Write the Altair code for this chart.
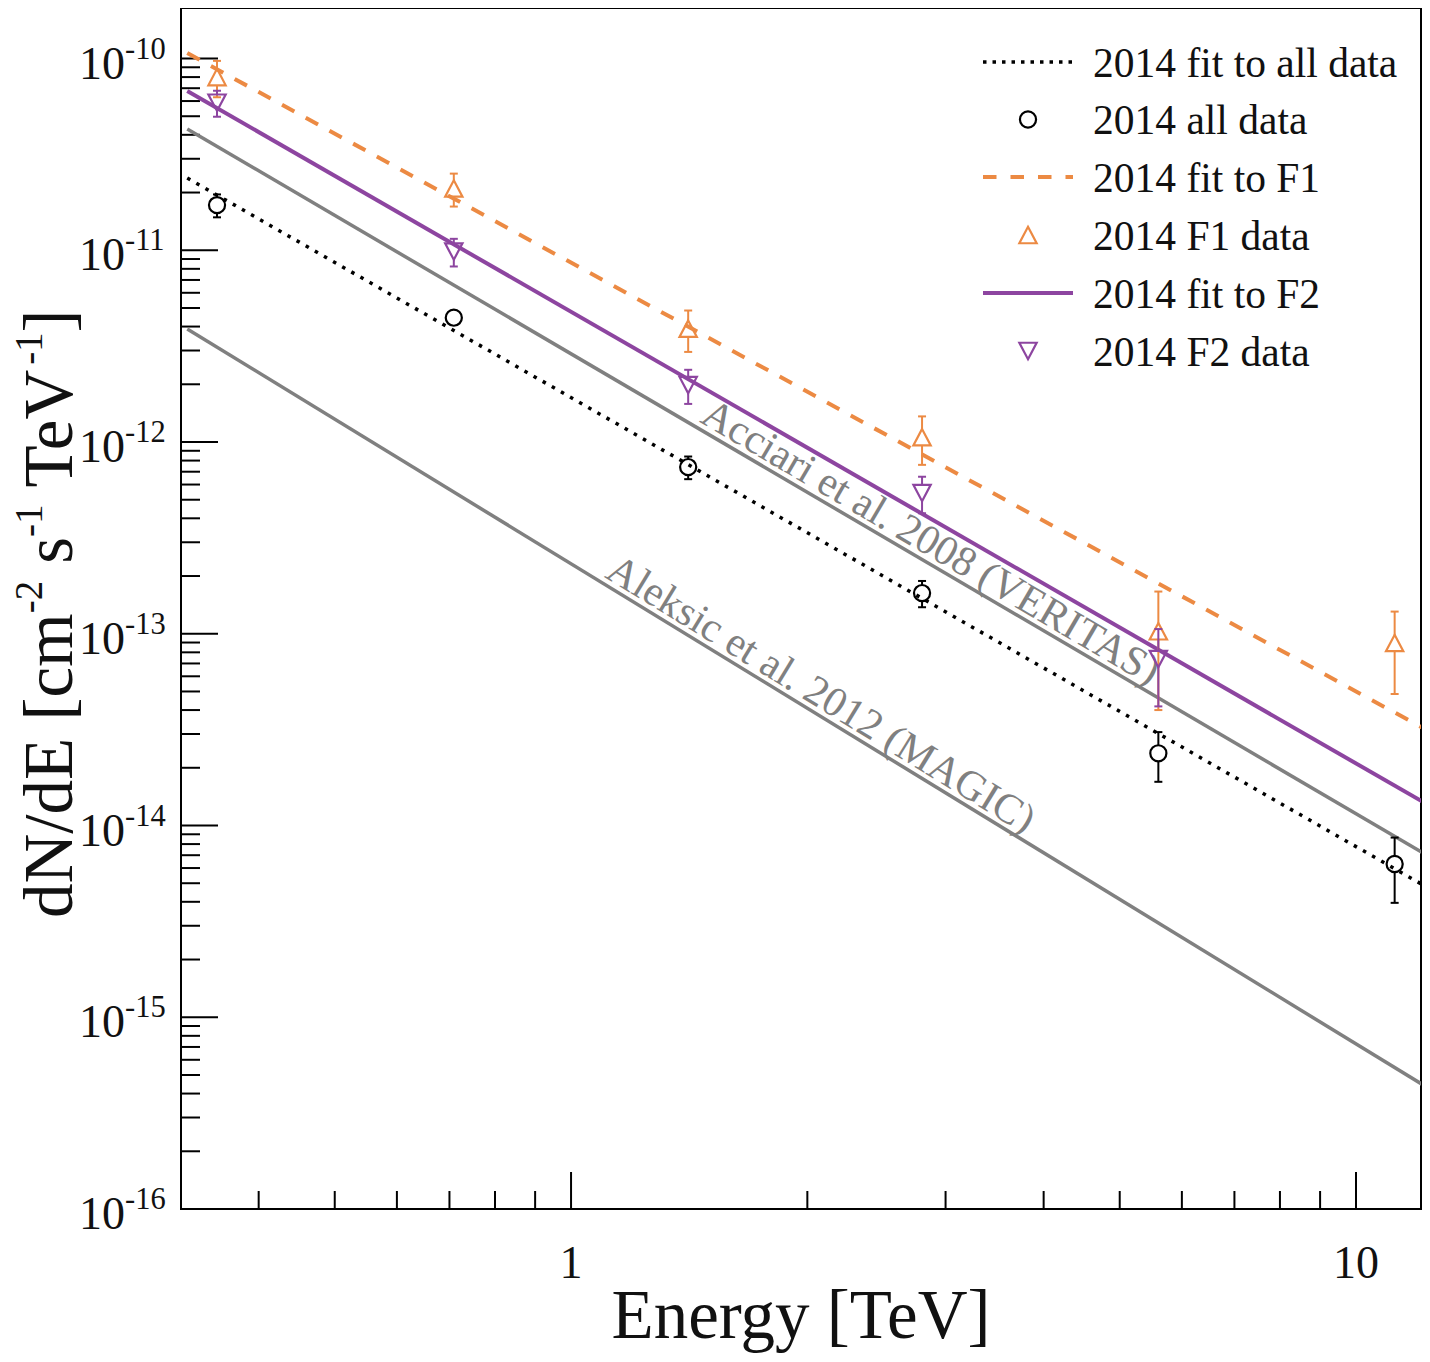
import altair as alt
import pandas as pd

SERIF = "Liberation Serif"
ORANGE = "#ec8a43"
PURPLE = "#8d45a0"
GRAY = "#808080"

# ---------------- data ----------------
energy = [0.354, 0.709, 1.41, 2.80, 5.60, 11.2]
all_flux = [1.72e-11, 4.45e-12, 7.4e-13, 1.63e-13, 2.38e-14, 6.3e-15]
all_err = [2.35e-12, 2.5e-13, 1.0e-13, 2.55e-14, 6.9e-15, 2.35e-15]

f1_flux = [8.0e-11, 2.10e-11, 3.9e-12, 1.06e-12, 1.03e-13, 8.95e-14]
f1_err = [1.72e-11, 4.1e-12, 9.5e-13, 3.0e-13, 6.3e-14, 4.1e-14]

f2_energy = [0.354, 0.709, 1.41, 2.80, 5.60]
f2_flux = [5.88e-11, 9.85e-12, 1.98e-12, 5.42e-13, 7.38e-14]
f2_err = [9.1e-12, 1.62e-12, 4.0e-13, 1.17e-13, 3.2e-14]

# power-law lines (straight on log-log): end points
line_energy = [0.3244, 12.17]
fit_all = [2.38e-11, 4.90e-15]
fit_f1 = [1.068e-10, 3.225e-14]
fit_f2 = [6.77e-11, 1.327e-14]
veritas = [4.29e-11, 7.19e-15]
magic = [3.885e-12, 4.44e-16]

ref_labels = ["Acciari et al. 2008 (VERITAS)", "Aleksic et al. 2012 (MAGIC)"]
ref_label_energy = [2.792, 2.022]
ref_label_flux = [2.456e-13, 3.97e-14]

legend_labels = ["2014 fit to all data", "2014 all data", "2014 fit to F1",
                 "2014 F1 data", "2014 fit to F2", "2014 F2 data"]

x_domain = [0.3185, 12.10]
y_domain = [1e-16, 1.834e-10]
x_major = [1, 10]
x_major_labels = ["1", "10"]
x_minor = [0.4, 0.5, 0.6, 0.7, 0.8, 0.9, 2, 3, 4, 5, 6, 7, 8, 9]
y_exponents = [-16, -15, -14, -13, -12, -11, -10]
y_minor_mult = [2, 3, 4, 5, 6, 7, 8, 9]

x_title = "Energy [TeV]"
y_title_parts = [("dN/dE [cm", False), ("-2", True), ("s", False), ("-1", True),
                 ("TeV", False), ("-1", True), ("]", False)]

# ---------------- layout ----------------
W, H = 1240, 1201
xs = alt.Scale(type="log", domain=x_domain, nice=False)
ys = alt.Scale(type="log", domain=y_domain, nice=False)


def X(f):
    return alt.X(f"{f}:Q", scale=xs, axis=None)


def Y(f):
    return alt.Y(f"{f}:Q", scale=ys, axis=None)


layers = []

# tick marks (inward, drawn through the scales)
ymaj_df = pd.DataFrame({"v": [10.0 ** e for e in y_exponents],
                        "base": ["10"] * len(y_exponents),
                        "sup": [str(e) for e in y_exponents]})
ymin_df = pd.DataFrame({"v": [m * 10.0 ** e for e in y_exponents[:-1] for m in y_minor_mult]})
xmaj_df = pd.DataFrame({"v": x_major, "label": x_major_labels})
xmin_df = pd.DataFrame({"v": x_minor})

layers.append(alt.Chart(ymaj_df).mark_rule(color="black", strokeWidth=2).encode(
    y=Y("v"), x=alt.value(0), x2=alt.value(37)))
layers.append(alt.Chart(ymin_df).mark_rule(color="black", strokeWidth=2).encode(
    y=Y("v"), x=alt.value(0), x2=alt.value(19)))
layers.append(alt.Chart(xmaj_df).mark_rule(color="black", strokeWidth=2).encode(
    x=X("v"), y=alt.value(H), y2=alt.value(H - 37)))
layers.append(alt.Chart(xmin_df).mark_rule(color="black", strokeWidth=2).encode(
    x=X("v"), y=alt.value(H), y2=alt.value(H - 18)))

# tick labels
layers.append(alt.Chart(ymaj_df).mark_text(font=SERIF, fontSize=46, align="right",
                                           baseline="alphabetic", dy=20, color="#111111").encode(
    y=Y("v"), x=alt.value(-56), text="base:N"))
layers.append(alt.Chart(ymaj_df).mark_text(font=SERIF, fontSize=30.5, align="left",
                                           baseline="alphabetic", dy=0, color="#111111").encode(
    y=Y("v"), x=alt.value(-56), text="sup:N"))
layers.append(alt.Chart(xmaj_df).mark_text(font=SERIF, fontSize=46, align="center",
                                           baseline="alphabetic", color="#111111").encode(
    x=X("v"), y=alt.value(H + 69), text="label:N"))

# axis titles
layers.append(alt.Chart(pd.DataFrame({"t": [x_title]})).mark_text(
    font=SERIF, fontSize=69, align="center", baseline="alphabetic", color="#111111").encode(
    x=alt.value(W / 2), y=alt.value(H + 129), text="t:N"))

em = {'d': .5, 'N': .722, '/': .278, 'E': .611, ' ': .25, '[': .333, 'c': .444, 'm': .778,
      '-': .333, '2': .5, '1': .5, 's': .389, 'T': .611, 'e': .444, 'V': .722, ']': .333}
cursor = 910.0
for i, (txt, sup) in enumerate(y_title_parts):
    size = 39 if sup else 69
    xpos = -139 if sup else -109
    layers.append(alt.Chart(pd.DataFrame({"t": [txt]})).mark_text(
        font=SERIF, fontSize=size, align="left", baseline="alphabetic", angle=270,
        color="#111111").encode(x=alt.value(xpos), y=alt.value(cursor), text="t:N"))
    cursor -= sum(em[c] for c in txt) * size
    nxt_main = i + 1 < len(y_title_parts) and not y_title_parts[i + 1][1]
    if sup and nxt_main and y_title_parts[i + 1][0] != "]":
        cursor -= 17

# lines
lines_df = pd.DataFrame({"E": line_energy, "all": fit_all, "f1": fit_f1, "f2": fit_f2,
                         "ver": veritas, "mag": magic})
layers.append(alt.Chart(lines_df).mark_line(color=GRAY, strokeWidth=3.5, clip=True).encode(
    x=X("E"), y=Y("mag")))
layers.append(alt.Chart(lines_df).mark_line(color=GRAY, strokeWidth=3.5, clip=True).encode(
    x=X("E"), y=Y("ver")))
layers.append(alt.Chart(lines_df).mark_line(color="black", strokeWidth=3.5, strokeDash=[3.5, 7],
                                            clip=True).encode(x=X("E"), y=Y("all")))
layers.append(alt.Chart(lines_df).mark_line(color=PURPLE, strokeWidth=4, clip=True).encode(
    x=X("E"), y=Y("f2")))
layers.append(alt.Chart(lines_df).mark_line(color=ORANGE, strokeWidth=4, strokeDash=[14, 13],
                                            clip=True).encode(x=X("E"), y=Y("f1")))

# reference labels along the lines
for lab, e, f, ang in zip(ref_labels, ref_label_energy, ref_label_flux, [30.4, 31.5]):
    layers.append(alt.Chart(pd.DataFrame({"E": [e], "v": [f], "t": [lab]})).mark_text(
        font=SERIF, fontSize=42, align="center", baseline="alphabetic", angle=ang, dy=-6,
        color=GRAY).encode(x=X("E"), y=Y("v"), text="t:N"))

# data points with error bars
TRI_UP = "M0,-0.95L1,0.95L-1,0.95Z"
TRI_DOWN = "M0,0.95L1,-0.95L-1,-0.95Z"


def points(E, v, err, color, shape, size):
    df = pd.DataFrame({"E": E, "v": v, "err": err})
    df["hi"] = df["v"] + df["err"]
    df["lo"] = df["v"] - df["err"]
    base = alt.Chart(df)
    up = base.transform_filter("datum.hi / datum.v > 1.1")
    dn = base.transform_filter("datum.v / datum.lo > 1.1")
    return [
        up.mark_rule(color=color, strokeWidth=2, y2Offset=-8).encode(
            x=X("E"), y=Y("hi"), y2=alt.Y2("v:Q")),
        up.mark_rule(color=color, strokeWidth=2, xOffset=-4, x2Offset=4).encode(
            x=X("E"), x2=alt.X2("E:Q"), y=Y("hi")),
        dn.mark_rule(color=color, strokeWidth=2, yOffset=8).encode(
            x=X("E"), y=Y("v"), y2=alt.Y2("lo:Q")),
        dn.mark_rule(color=color, strokeWidth=2, xOffset=-4, x2Offset=4).encode(
            x=X("E"), x2=alt.X2("E:Q"), y=Y("lo")),
        base.mark_point(shape=shape, size=size, filled=False, color=color, strokeWidth=2.2,
                        opacity=1).encode(x=X("E"), y=Y("v")),
    ]


layers += points(energy, all_flux, all_err, "black", "circle", 260)
layers += points(energy, f1_flux, f1_err, ORANGE, TRI_UP, 300)
layers += points(f2_energy, f2_flux, f2_err, PURPLE, TRI_DOWN, 300)

# legend (manual)
one = pd.DataFrame({"k": [0]})
rows = [54, 111.5, 169, 227, 285, 343]
LX1, LX2, LXS, LXT = 802, 892, 847, 912
layers.append(alt.Chart(one).mark_rule(color="black", strokeWidth=3.5, strokeDash=[3.5, 6]).encode(
    x=alt.value(LX1), x2=alt.value(LX2), y=alt.value(rows[0])))
layers.append(alt.Chart(one).mark_point(shape="circle", size=260, filled=False, color="black",
                                        strokeWidth=2.2, opacity=1).encode(
    x=alt.value(LXS), y=alt.value(rows[1])))
layers.append(alt.Chart(one).mark_rule(color=ORANGE, strokeWidth=4, strokeDash=[13.5, 14]).encode(
    x=alt.value(LX1), x2=alt.value(LX2), y=alt.value(rows[2])))
layers.append(alt.Chart(one).mark_point(shape=TRI_UP, size=300, filled=False, color=ORANGE,
                                        strokeWidth=2.2, opacity=1).encode(
    x=alt.value(LXS), y=alt.value(rows[3])))
layers.append(alt.Chart(one).mark_rule(color=PURPLE, strokeWidth=4).encode(
    x=alt.value(LX1), x2=alt.value(LX2), y=alt.value(rows[4])))
layers.append(alt.Chart(one).mark_point(shape=TRI_DOWN, size=300, filled=False, color=PURPLE,
                                        strokeWidth=2.2, opacity=1).encode(
    x=alt.value(LXS), y=alt.value(rows[5])))
for i, lab in enumerate(legend_labels):
    layers.append(alt.Chart(pd.DataFrame({"t": [lab]})).mark_text(
        font=SERIF, fontSize=41.5, align="left", baseline="alphabetic", color="#111111").encode(
        x=alt.value(LXT), y=alt.value(rows[i] + 14.5), text="t:N"))

chart = alt.layer(*layers).properties(
    width=W, height=H,
    padding={"left": 173, "top": 0, "right": 1, "bottom": 145},
    autosize=alt.AutoSizeParams(type="none"),
    background="white",
).configure_view(stroke="black", strokeWidth=2)

chart.save("out.html", embed_options={"renderer": "svg", "actions": False})
